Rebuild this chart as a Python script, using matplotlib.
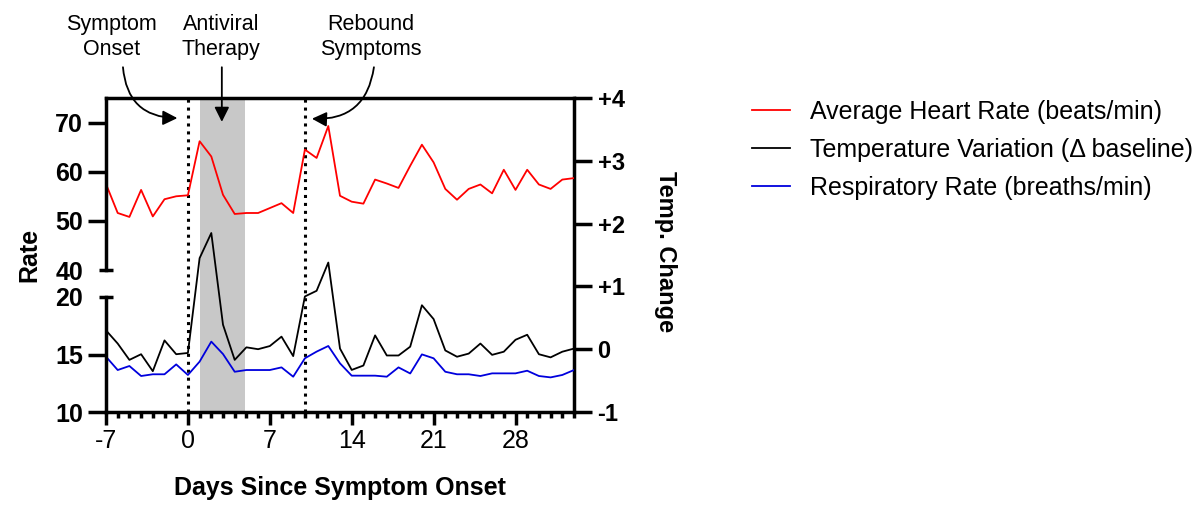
import numpy as np
import matplotlib
matplotlib.use("Agg")
import matplotlib.pyplot as plt
from matplotlib.lines import Line2D

plt.rcParams['font.family'] = ['Liberation Sans', 'DejaVu Sans']
plt.rcParams['axes.unicode_minus'] = False

# ---- data ----
days = np.arange(-7, 34)
heart_rate = [57.5, 51.6, 50.8, 56.3, 50.9, 54.4, 55.0, 55.2,
              66.2, 63.1, 55.3, 51.4, 51.6, 51.6, 52.6, 53.6, 51.6, 64.5,
              62.8, 69.3, 55.1, 53.9, 53.5, 58.4, 57.6, 56.7, 61.2, 65.5,
              61.9, 56.5, 54.3, 56.5, 57.4, 55.6, 60.4, 56.3, 60.4, 57.4,
              56.5, 58.4, 58.7]
temp_change = [0.30, 0.09, -0.17, -0.08, -0.35, 0.14, -0.08, -0.06,
               1.45, 1.85, 0.39, -0.17, 0.03, 0.00, 0.05, 0.20, -0.11, 0.84,
               0.93, 1.38, 0.01, -0.33, -0.26, 0.22, -0.10, -0.10, 0.04, 0.70,
               0.48, -0.02, -0.12, -0.07, 0.09, -0.09, -0.04, 0.15, 0.23, -0.08,
               -0.13, -0.04, 0.01]
resp_rate = [14.81, 13.65, 14.0, 13.13, 13.28, 13.28, 14.14, 13.22,
             14.38, 16.12, 15.04, 13.5, 13.65, 13.65, 13.65, 13.88, 13.07, 14.67,
             15.25, 15.74, 14.23, 13.16, 13.16, 13.16, 13.07, 13.88, 13.35, 15.01,
             14.67, 13.5, 13.28, 13.28, 13.13, 13.36, 13.36, 13.36, 13.59, 13.13,
             13.01, 13.22, 13.65]

x_ticks = [-7, 0, 7, 14, 21, 28]
temp_ticks = [-1, 0, 1, 2, 3, 4]
temp_labels = ['-1', '0', '+1', '+2', '+3', '+4']
onset_day = 0
rebound_day = 10
antiviral = (1, 4.85)

series_labels = ['Average Heart Rate (beats/min)',
                 'Temperature Variation (\u0394 baseline)',
                 'Respiratory Rate (breaths/min)']
series_colors = ['#ff0000', 'black', '#0000dd']

# ---- layout ----
W, H = 1200, 512
fig = plt.figure(figsize=(W / 100, H / 100), dpi=100)


def px_box(x0, y0, x1, y1):
    # pixel box (origin top-left) -> figure fraction rect
    return [x0 / W, 1 - y1 / H, (x1 - x0) / W, (y1 - y0) / H]


SPINE = 2.5
ax = fig.add_axes(px_box(106, 98, 574, 412))
ax_top = fig.add_axes(px_box(106, 98, 574, 270))
ax_bot = fig.add_axes(px_box(106, 297, 574, 412))

# full axis: shading, markers, temperature on the right scale
ax.set_xlim(-7, 33)
ax.set_ylim(-1, 4)
ax.axvspan(*antiviral, color='#c8c8c8', lw=0, zorder=0)
for d in (onset_day, rebound_day):
    ax.axvline(d, color='black', ls=(0, (1, 1.6)), lw=2.2, zorder=1)
ax.plot(days, temp_change, color=series_colors[1], lw=1.3, zorder=3)

ax.yaxis.tick_right()
ax.spines['left'].set_visible(False)
for s in ('top', 'right', 'bottom'):
    ax.spines[s].set_linewidth(SPINE)
ax.set_yticks(temp_ticks, labels=temp_labels, fontweight='bold')
ax.tick_params(axis='y', length=13, width=SPINE, pad=4, labelsize=17)
ax.set_xticks(x_ticks)
ax.set_xticks(np.arange(-7, 34), minor=True)
ax.tick_params(axis='x', which='major', length=9, width=SPINE, pad=3, labelsize=18)
ax.tick_params(axis='x', which='minor', length=4.5, width=SPINE)
ax.set_xlabel('Days Since Symptom Onset', fontsize=18, fontweight='bold')
ax.xaxis.set_label_coords(0.5, -0.205)

# broken left axis: heart rate (top) and respiratory rate (bottom)
for a, vals, lim, major, cap, col in (
        (ax_top, heart_rate, (40, 75), [50, 60, 70], 40, series_colors[0]),
        (ax_bot, resp_rate, (10, 20), [10, 15], 20, series_colors[2])):
    a.patch.set_visible(False)
    a.set_xlim(-7, 33)
    a.set_ylim(*lim)
    a.plot(days, vals, color=col, lw=1.3)
    for s in ('top', 'right', 'bottom'):
        a.spines[s].set_visible(False)
    a.spines['left'].set_linewidth(SPINE)
    a.set_xticks([])
    a.set_yticks(major, labels=[str(v) for v in major], fontweight='bold')
    a.set_yticks([cap], labels=[str(cap)], minor=True, fontweight='bold')
    a.tick_params(axis='y', which='major', length=13, width=SPINE, pad=3.5, labelsize=18)
    a.tick_params(axis='y', which='minor', direction='inout', length=10,
                  width=SPINE, pad=11.5, labelsize=18)

fig.text(29 / W, 1 - 255 / H, 'Rate', rotation=90, ha='center', va='center',
         fontsize=18, fontweight='bold')
fig.text(665 / W, 1 - 252 / H, 'Temp. Change', rotation=270, ha='center',
         va='center', fontsize=17, fontweight='bold')

# annotations above the plot
notes = [
    ('Symptom\nOnset', (-6.5, 4.97), (-5.55, 4.49), (onset_day - 0.9, 3.68), 0.45),
    ('Antiviral\nTherapy', (2.85, 4.97), (2.9, 4.49), (2.9, 3.62), 0.0),
    ('Rebound\nSymptoms', (15.6, 4.97), (15.9, 4.49), (rebound_day + 0.6, 3.67), -0.45),
]
for text, tpos, start, tip, rad in notes:
    ax.text(*tpos, text, ha='center', va='center', fontsize=15.5,
            linespacing=1.2, clip_on=False)
    ax.annotate('', xy=tip, xytext=start, annotation_clip=False,
                arrowprops=dict(arrowstyle='-|>', color='black', lw=1.3,
                                mutation_scale=22,
                                connectionstyle=f'arc3,rad={rad}',
                                shrinkA=0, shrinkB=0))

handles = [Line2D([], [], color=c, lw=1.3) for c in series_colors]
fig.legend(handles, series_labels, loc='upper left',
           bbox_to_anchor=(752 / W, 1 - 100 / H), frameon=False, fontsize=18,
           handlelength=1.5, handletextpad=0.8, labelspacing=0.55,
           borderpad=0, borderaxespad=0)

fig.savefig('out.png', dpi=100)
